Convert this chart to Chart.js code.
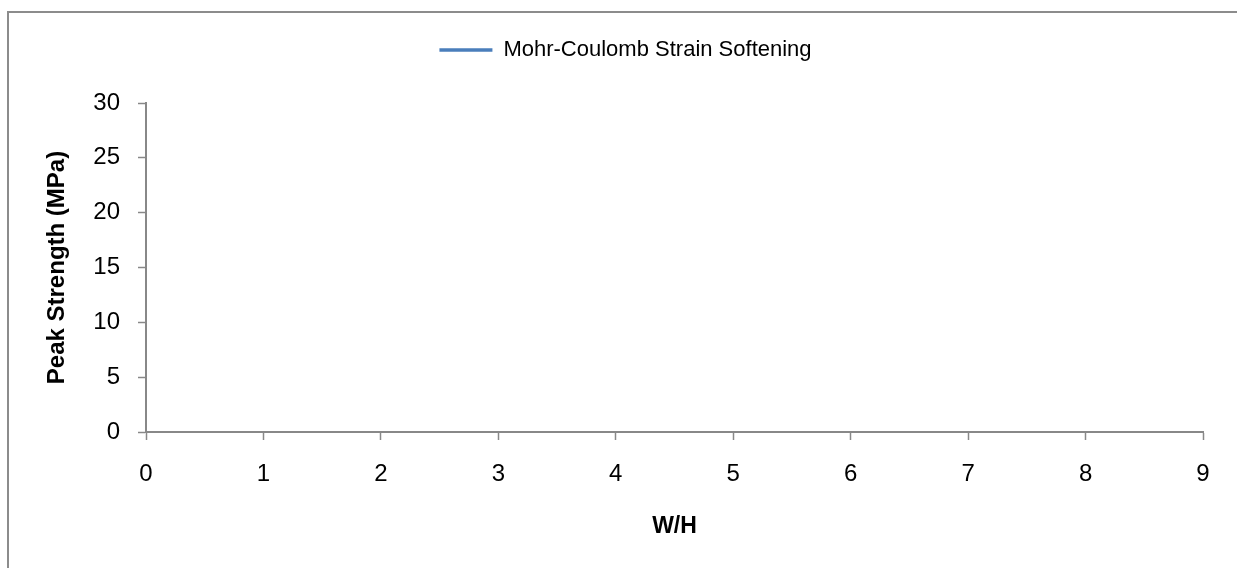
<!DOCTYPE html>
<html>
<head>
<meta charset="utf-8">
<script src="https://cdn.jsdelivr.net/npm/chart.js@4/dist/chart.umd.min.js"></script>
<style>
  html, body { margin: 0; padding: 0; background: #ffffff; }
  #c { display: block; }
</style>
</head>
<body>
<canvas id="c" width="1237" height="568"></canvas>
<script>
// ---- data (the reference plot shows no plotted points) ----
const seriesName = "Mohr-Coulomb Strain Softening";
const wOverH = [];          // x values (W/H) - none visible in the reference
const peakStrength = [];    // y values (MPa) - none visible in the reference
const xTickValues = [0, 1, 2, 3, 4, 5, 6, 7, 8, 9];
const yTickValues = [0, 5, 10, 15, 20, 25, 30];
const xTitle = "W/H";
const yTitle = "Peak Strength (MPa)";

const FONT = "'Liberation Sans', Arial, sans-serif";
const AXIS = "#888888";

const points = wOverH.map((x, i) => ({ x: x, y: peakStrength[i] }));

const framePlugin = {
  id: 'frame',
  beforeDraw(chart) {
    const ctx = chart.ctx;
    ctx.save();
    ctx.fillStyle = '#ffffff';
    ctx.fillRect(0, 0, chart.width, chart.height);
    ctx.strokeStyle = '#8c8c8c';
    ctx.lineWidth = 2;
    ctx.beginPath();
    ctx.moveTo(8, chart.height + 5);
    ctx.lineTo(8, 12);
    ctx.lineTo(chart.width + 5, 12);
    ctx.stroke();
    ctx.restore();
  }
};

const legendShift = {
  id: 'legendShift',
  afterLayout(chart) {
    const lg = chart.legend;
    if (lg) {
      lg.left += 24;
      lg.right += 24;
      lg.top -= 32;
      lg.bottom -= 32;
    }
  }
};

new Chart(document.getElementById('c'), {
  type: 'line',
  data: {
    datasets: [{
      label: seriesName,
      data: points,
      borderColor: '#4a7ebb',
      backgroundColor: '#4a7ebb',
      borderWidth: 3.5,
      pointRadius: 0
    }]
  },
  options: {
    responsive: false,
    animation: false,
    devicePixelRatio: 1,
    layout: { padding: { top: 40, right: 34, bottom: 0, left: 0 } },
    plugins: {
      legend: {
        position: 'top',
        labels: {
          usePointStyle: true,
          pointStyle: 'line',
          pointStyleWidth: 53,
          padding: 31,
          color: '#000000',
          font: { family: FONT, size: 22 }
        }
      },
      tooltip: { enabled: false }
    },
    scales: {
      x: {
        type: 'linear',
        min: 0,
        max: 9,
        afterFit(scale) { scale.height = 136; },
        afterBuildTicks(scale) { scale.ticks = xTickValues.map(v => ({ value: v })); },
        ticks: {
          color: '#000000',
          padding: 20,
          maxRotation: 0,
          font: { family: FONT, size: 24 }
        },
        grid: {
          drawOnChartArea: false,
          drawTicks: true,
          tickLength: 8,
          tickColor: AXIS,
          tickWidth: 1.5
        },
        border: { display: true, color: AXIS, width: 2 },
        title: {
          display: true,
          text: xTitle,
          color: '#000000',
          font: { family: FONT, size: 23, weight: 'bold' },
          padding: { top: 0, bottom: 28 }
        }
      },
      y: {
        type: 'linear',
        min: 0,
        max: 30,
        afterFit(scale) { scale.width = 146; },
        afterBuildTicks(scale) { scale.ticks = yTickValues.map(v => ({ value: v })); },
        ticks: {
          color: '#000000',
          padding: 18,
          font: { family: FONT, size: 24 }
        },
        grid: {
          drawOnChartArea: false,
          drawTicks: true,
          tickLength: 8,
          tickColor: AXIS,
          tickWidth: 1.5
        },
        border: { display: true, color: AXIS, width: 2 },
        title: {
          display: true,
          text: yTitle,
          color: '#000000',
          font: { family: FONT, size: 24, weight: 'bold' },
          padding: { top: 43, bottom: 0 }
        }
      }
    }
  },
  plugins: [framePlugin, legendShift]
});
</script>
</body>
</html>
